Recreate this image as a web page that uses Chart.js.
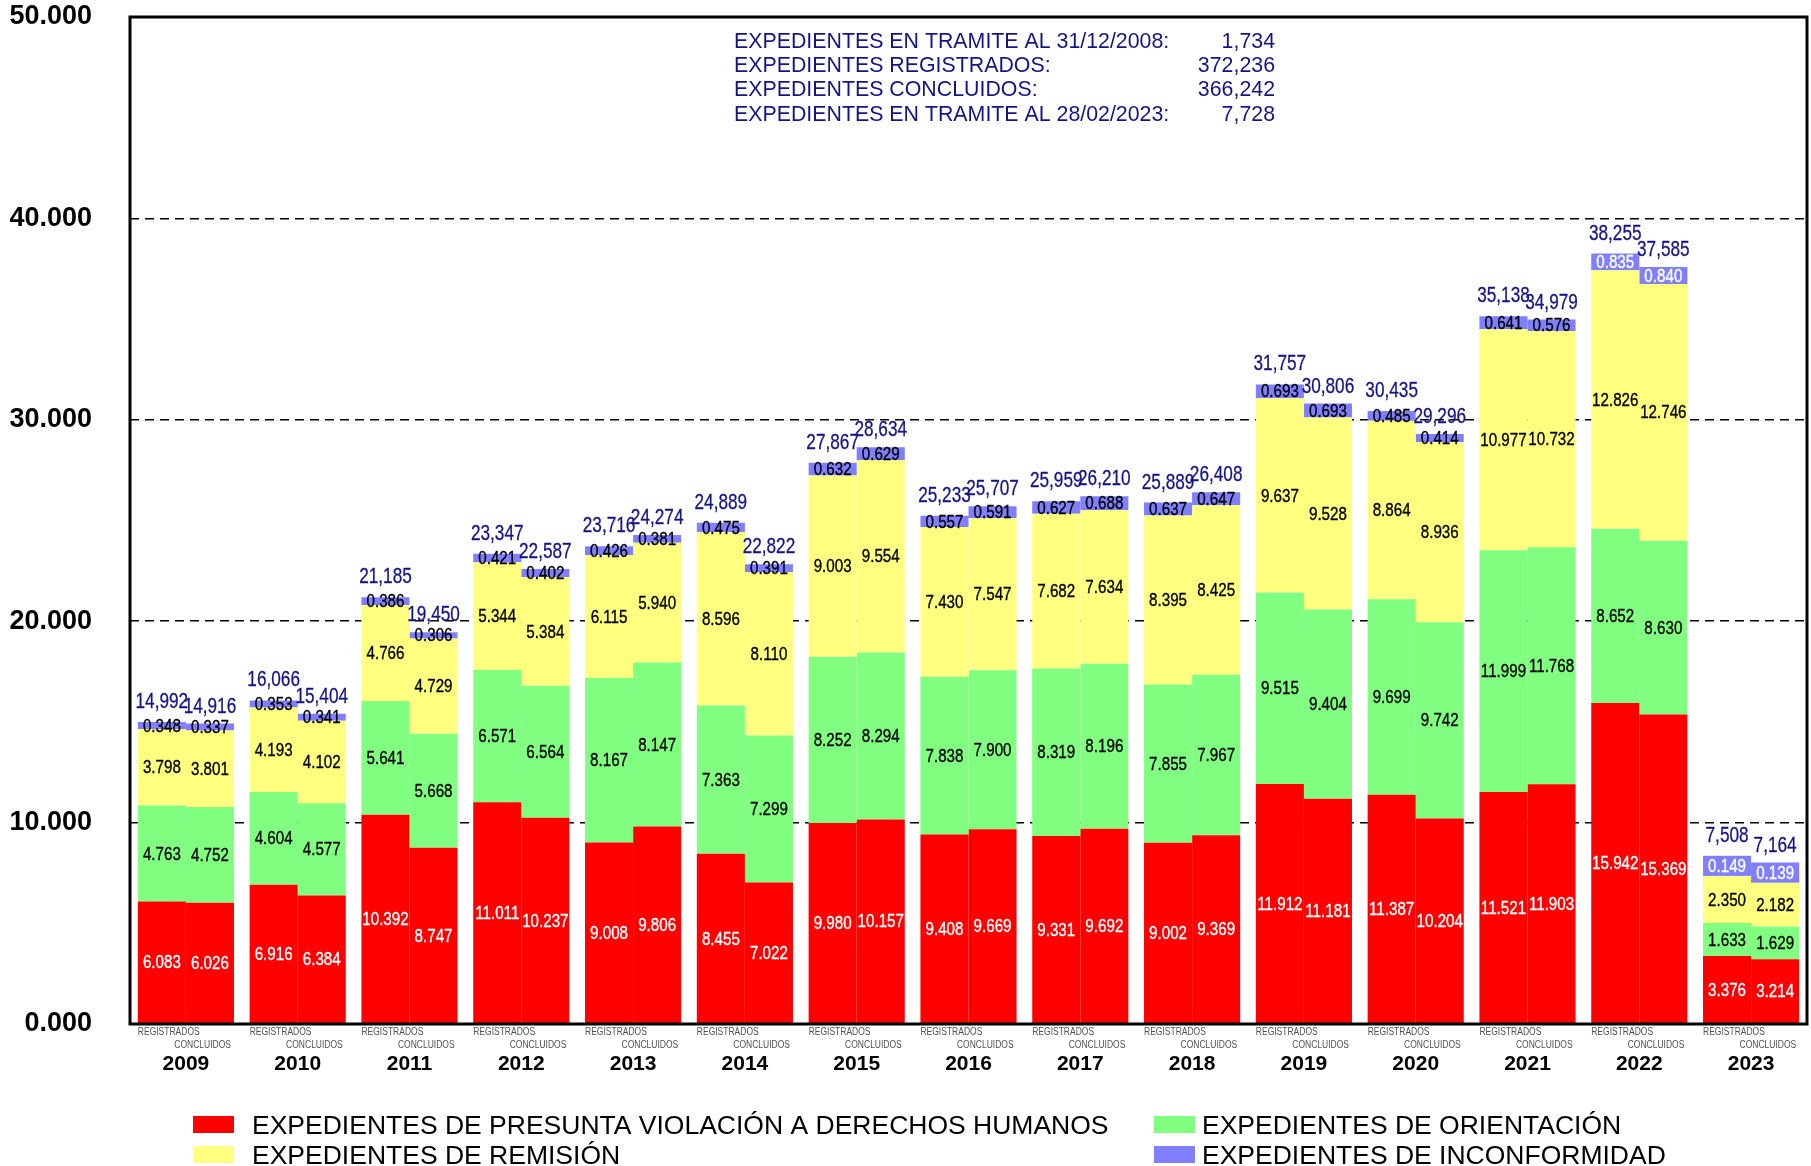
<!DOCTYPE html>
<html>
<head>
<meta charset="utf-8">
<script src="https://cdn.jsdelivr.net/npm/chart.js@4.4.1/dist/chart.umd.min.js"></script>
<style>
  html, body { margin: 0; padding: 0; background: #ffffff; }
  #wrap { position: relative; width: 1811px; height: 1166px; }
  canvas { display: block; }
</style>
</head>
<body>
<div id="wrap"><canvas id="c" width="1811" height="1166"></canvas></div>
<script>
// ---------------- DATA ----------------
const years = ['2009','2010','2011','2012','2013','2014','2015','2016','2017','2018','2019','2020','2021','2022','2023'];

const violacionReg     = [6083, 6916, 10392, 11011, 9008, 8455, 9980, 9408, 9331, 9002, 11912, 11387, 11521, 15942, 3376];
const violacionCon     = [6026, 6384, 8747, 10237, 9806, 7022, 10157, 9669, 9692, 9369, 11181, 10204, 11903, 15369, 3214];
const orientacionReg   = [4763, 4604, 5641, 6571, 8167, 7363, 8252, 7838, 8319, 7855, 9515, 9699, 11999, 8652, 1633];
const orientacionCon   = [4752, 4577, 5668, 6564, 8147, 7299, 8294, 7900, 8196, 7967, 9404, 9742, 11768, 8630, 1629];
const remisionReg      = [3798, 4193, 4766, 5344, 6115, 8596, 9003, 7430, 7682, 8395, 9637, 8864, 10977, 12826, 2350];
const remisionCon      = [3801, 4102, 4729, 5384, 5940, 8110, 9554, 7547, 7634, 8425, 9528, 8936, 10732, 12746, 2182];
const inconformidadReg = [348, 353, 386, 421, 426, 475, 632, 557, 627, 637, 693, 485, 641, 835, 149];
const inconformidadCon = [337, 341, 306, 402, 381, 391, 629, 591, 688, 647, 693, 414, 576, 840, 139];

const seriesNames = [
  'EXPEDIENTES DE PRESUNTA VIOLACIÓN A DERECHOS HUMANOS',
  'EXPEDIENTES DE ORIENTACIÓN',
  'EXPEDIENTES DE REMISIÓN',
  'EXPEDIENTES DE INCONFORMIDAD'
];
const stackNames = ['REGISTRADOS', 'CONCLUIDOS'];

const infoLabels = [
  'EXPEDIENTES EN TRAMITE AL 31/12/2008:',
  'EXPEDIENTES REGISTRADOS:',
  'EXPEDIENTES CONCLUIDOS:',
  'EXPEDIENTES EN TRAMITE AL 28/02/2023:'
];
const infoValues = ['1,734', '372,236', '366,242', '7,728'];

const yTickValues = [0, 10000, 20000, 30000, 40000, 50000];
const whiteInconformidadYears = ['2022', '2023'];

// ---------------- STYLE ----------------
const colors = ['#FF0000', '#80FF80', '#FFFF80', '#8080FF'];
const NAVY = '#14148a';
const FONT = '"Liberation Sans", Arial, "DejaVu Sans", sans-serif';

const regSeries = [violacionReg, orientacionReg, remisionReg, inconformidadReg];
const conSeries = [violacionCon, orientacionCon, remisionCon, inconformidadCon];

const datasets = [];
regSeries.forEach((arr, i) => datasets.push({
  label: seriesNames[i], data: arr, backgroundColor: colors[i], stack: 'reg', series: i, borderWidth: 0
}));
conSeries.forEach((arr, i) => datasets.push({
  label: seriesNames[i], data: arr, backgroundColor: colors[i], stack: 'con', series: i, borderWidth: 0
}));

function fillScaled(ctx, text, x, y, sx, stroke) {
  ctx.save();
  ctx.translate(x, y);
  ctx.scale(sx, 1);
  if (stroke) {
    ctx.strokeStyle = ctx.fillStyle;
    ctx.lineWidth = stroke;
    ctx.strokeText(text, 0, 0);
  }
  ctx.fillText(text, 0, 0);
  ctx.restore();
}

const fmtThousands = v => (v / 1000).toFixed(3);
const fmtTotal = v => v.toLocaleString('en-US');

const decorPlugin = {
  id: 'decor',
  afterDatasetsDraw(chart) {
    const ctx = chart.ctx;
    const ca = chart.chartArea;
    ctx.save();
    // segment labels
    chart.data.datasets.forEach((ds, di) => {
      const meta = chart.getDatasetMeta(di);
      meta.data.forEach((el, i) => {
        const v = ds.data[i];
        let cy = (el.y + el.base) / 2;
        let col = '#000000';
        if (ds.series === 0) col = '#ffffff';
        if (ds.series === 3 && whiteInconformidadYears.includes(years[i])) {
          col = '#ffffff';
          const h = el.base - el.y;
          if (h < 16) {
            // label box so the white text stays readable on a thin segment
            ctx.fillStyle = colors[3];
            ctx.fillRect(el.x - el.width / 2, el.base - 20, el.width, 20);
            cy = el.base - 10;
          }
        }
        ctx.fillStyle = col;
        ctx.font = '18.5px ' + FONT;
        ctx.textAlign = 'center';
        ctx.textBaseline = 'middle';
        fillScaled(ctx, fmtThousands(v), el.x, cy + 1, 0.82, 0.35);
      });
    });
    // totals above stacks
    const stacks = [{top: 3, series: regSeries, gap: 14}, {top: 7, series: conSeries, gap: 11}];
    stacks.forEach(s => {
      const meta = chart.getDatasetMeta(s.top);
      meta.data.forEach((el, i) => {
        const total = s.series.reduce((acc, arr) => acc + arr[i], 0);
        let topY = el.y;
        if (whiteInconformidadYears.includes(years[i]) && (el.base - el.y) < 16) topY = el.base - 20;
        ctx.fillStyle = NAVY;
        ctx.font = '21.5px ' + FONT;
        ctx.textAlign = 'center';
        ctx.textBaseline = 'alphabetic';
        fillScaled(ctx, fmtTotal(total), el.x, topY - s.gap, 0.8, 0.3);
      });
    });
    // frame
    ctx.strokeStyle = '#000000';
    ctx.lineWidth = 3;
    ctx.setLineDash([]);
    ctx.strokeRect(ca.left, ca.top, ca.right - ca.left, ca.bottom - ca.top);
    ctx.restore();
  },
  afterDraw(chart) {
    const ctx = chart.ctx;
    ctx.save();
    // REGISTRADOS / CONCLUIDOS sub labels
    const regMeta = chart.getDatasetMeta(0);
    const conMeta = chart.getDatasetMeta(4);
    ctx.fillStyle = '#505050';
    ctx.font = '10px ' + FONT;
    ctx.textBaseline = 'alphabetic';
    regMeta.data.forEach((el, i) => {
      ctx.textAlign = 'left';
      fillScaled(ctx, stackNames[0], el.x - el.width / 2, 1035, 0.85);
      const ce = conMeta.data[i];
      ctx.textAlign = 'right';
      fillScaled(ctx, stackNames[1], ce.x + ce.width / 2 - 3, 1048, 0.85);
    });
    // info block
    ctx.fillStyle = NAVY;
    ctx.font = '22px ' + FONT;
    const infoY = [48, 72, 96, 121];
    infoLabels.forEach((t, i) => {
      ctx.textAlign = 'left';
      fillScaled(ctx, t, 734, infoY[i], 0.97);
      ctx.textAlign = 'right';
      fillScaled(ctx, infoValues[i], 1275, infoY[i], 0.97);
    });
    // legend
    const legendSquares = [[193, 1116], [1154, 1116], [193, 1146], [1154, 1146]];
    const legendText = [252, 1202, 252, 1202];
    ctx.font = '26.5px ' + FONT;
    ctx.textAlign = 'left';
    [0, 1, 2, 3].forEach(k => {
      const [x, y] = legendSquares[k];
      ctx.fillStyle = colors[k];
      ctx.fillRect(x, y, 41, 17);
      ctx.fillStyle = '#000000';
      ctx.fillText(seriesNames[k], legendText[k], y + 18);
    });
    ctx.restore();
  }
};

new Chart(document.getElementById('c'), {
  type: 'bar',
  data: { labels: years, datasets },
  plugins: [decorPlugin],
  options: {
    responsive: false,
    animation: false,
    events: [],
    layout: { padding: { top: 17, right: 4, bottom: 0, left: 0 } },
    plugins: { legend: { display: false }, tooltip: { enabled: false } },
    datasets: { bar: { barPercentage: 1.0, categoryPercentage: 0.86 } },
    scales: {
      x: {
        stacked: true,
        grid: { display: false },
        border: { display: false },
        ticks: {
          color: '#000000',
          font: { family: FONT, size: 21, weight: 'bold' },
          padding: 20,
          maxRotation: 0,
          autoSkip: false
        },
        afterFit(scale) { scale.height = 142; scale.paddingLeft = 0; scale.paddingRight = 0; }
      },
      y: {
        stacked: true,
        min: 0,
        max: 50000,
        afterBuildTicks(scale) { scale.ticks = yTickValues.map(v => ({ value: v })); },
        grid: {
          drawTicks: false,
          lineWidth: 1.5,
          color: ctx => (ctx.tick && (ctx.tick.value === 0 || ctx.tick.value === 50000)) ? 'rgba(0,0,0,0)' : '#000000'
        },
        border: { display: false, dash: [9, 6] },
        ticks: {
          color: '#000000',
          font: { family: FONT, size: 27, weight: 'bold' },
          padding: 38,
          callback: v => fmtThousands(v)
        },
        afterFit(scale) { scale.width = 130; scale.paddingTop = 0; scale.paddingBottom = 0; }
      }
    }
  }
});
</script>
</body>
</html>
